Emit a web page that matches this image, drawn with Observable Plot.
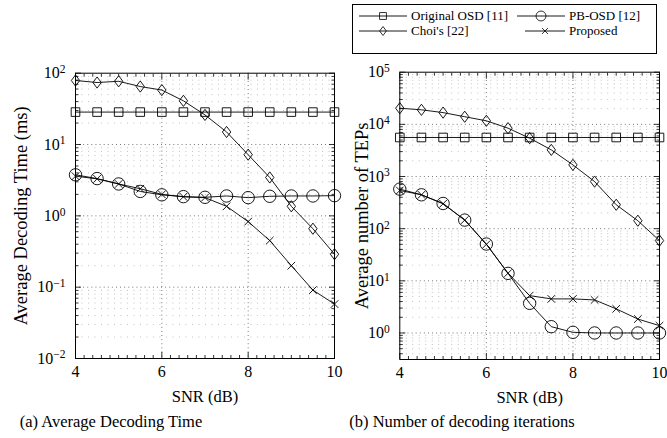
<!DOCTYPE html>
<html><head><meta charset="utf-8">
<script src="https://cdn.jsdelivr.net/npm/d3@7"></script>
<script src="https://cdn.jsdelivr.net/npm/@observablehq/plot@0.6"></script>
<style>
body{margin:0;background:#fff;}
#wrap{position:relative;width:667px;height:438px;font-family:"Liberation Serif","Times New Roman","DejaVu Serif",serif;color:#000;overflow:hidden;}
.panel{position:absolute;top:0;}
.panel svg{overflow:visible;}
.cap{position:absolute;font-size:16.5px;white-space:nowrap;transform:translateX(-50%);}
#legend{position:absolute;left:352px;top:4px;width:305px;height:50px;border:1px solid #000;box-sizing:border-box;font-size:13px;}
.li{position:absolute;display:flex;align-items:center;white-space:nowrap;height:14px;}
.li svg{margin-right:4px;}
</style></head><body><div id="wrap">
<div id="left" class="panel" style="left:0"></div>
<div id="right" class="panel" style="left:340px"></div>
<div id="legend"></div>
<div class="cap" style="left:111px;top:412px">(a) Average Decoding Time</div>
<div class="cap" style="left:462px;top:412px">(b) Number of decoding iterations</div>
</div>
<script>
// ---- data ----
const snr = [4, 4.5, 5, 5.5, 6, 6.5, 7, 7.5, 8, 8.5, 9, 9.5, 10];
const seriesNames = ["Original OSD [11]", "PB-OSD [12]", "Choi's [22]", "Proposed"];
// (a) average decoding time (ms)
const timeOrig = [28.5, 28.5, 28.5, 28.5, 28.5, 28.5, 28.5, 28.5, 28.5, 28.5, 28.5, 28.5, 28.5];
const timePB   = [3.76, 3.33, 2.8, 2.2, 1.97, 1.86, 1.82, 1.9, 1.8, 1.88, 1.9, 1.9, 1.92];
const timeChoi = [79, 74, 77, 65, 58, 41, 26, 15, 7.2, 3.45, 1.36, 0.66, 0.29];
const timeProp = [3.6, 3.3, 2.8, 2.4, 2.0, 1.85, 1.8, 1.36, 0.83, 0.45, 0.2, 0.091, 0.058];
// (b) average number of TEPs
const tepOrig = [5600, 5600, 5600, 5600, 5600, 5600, 5600, 5600, 5600, 5600, 5600, 5600, 5600];
const tepPB   = [573, 446, 304, 146, 50.7, 13.9, 3.7, 1.32, 1.03, 1, 1, 1, 1];
const tepChoi = [20400, 19000, 16800, 14000, 11700, 8450, 5430, 3240, 1670, 800, 287, 142, 59];
const tepProp = [540, 446, 300, 146, 50, 14, 5.2, 4.5, 4.5, 4.3, 2.9, 1.85, 1.38];
// ticks
const xTicks = [4, 6, 8, 10];
const timeTicks = [0.01, 0.1, 1, 10, 100];
const tepTicks = [1, 10, 100, 1000, 10000, 100000];

const FONT = "Liberation Serif, Times New Roman, DejaVu Serif, serif";

// ---- symbols ----
const symSquare = {draw(c){ c.rect(-4.3,-4.3,8.6,8.6); }};
const symCircle = {draw(c){ c.moveTo(6.2,0); c.arc(0,0,6.2,0,2*Math.PI); c.closePath(); }};
const symDiamond = {draw(c){ c.moveTo(0,-5.6); c.lineTo(4.2,0); c.lineTo(0,5.6); c.lineTo(-4.2,0); c.closePath(); }};
const symTimes = {draw(c){ c.moveTo(-3.8,-3.8); c.lineTo(3.8,3.8); c.moveTo(-3.8,3.8); c.lineTo(3.8,-3.8); }};
const symbols = [symSquare, symCircle, symDiamond, symTimes];

function rows(vals){ return snr.map((x,i)=>({x, y: vals[i]})); }
function fmtPow(d){ const e = Math.round(Math.log10(d)); return "10^" + String(e).replace("-","−"); }
function minors(lo, hi){ const out=[]; for(let e=lo;e<hi;e++) for(let k=2;k<=9;k++) out.push(k*Math.pow(10,e)); return out; }

function panel(opts){
  const {el, width, height, ml, mr, mt, mb, domain, ticks, series, ylabel, ylabelOffset, minorLo, minorHi} = opts;
  const minorY = minors(minorLo, minorHi).filter(v=>v>=domain[0] && v<=domain[1]);
  const majorInner = ticks.filter(v=>v>domain[0]*1.001 && v<domain[1]*0.999);
  const minorX = d3.range(4.2, 10, 0.2).filter(v=>Math.abs(v-Math.round(v/2)*2)>1e-6);
  const marks = [
    Plot.ruleY(minorY, {stroke:"#aaa", strokeWidth:0.8, strokeDasharray:"0.9,5.6"}),
    Plot.ruleY(majorInner, {stroke:"#444", strokeWidth:0.8, strokeDasharray:"0.9,3.2"}),
    Plot.ruleX([6,8], {stroke:"#444", strokeWidth:0.8, strokeDasharray:"0.9,3.2"}),
    Plot.axisY({anchor:"left", ticks:minorY, tickSize:-3.5, tickFormat:()=>"", label:null, strokeWidth:0.8}),
    Plot.axisY({anchor:"right", ticks:minorY, tickSize:-3.5, tickFormat:()=>"", label:null, strokeWidth:0.8}),
    Plot.axisY({anchor:"left", ticks:ticks, tickSize:-6, tickFormat:()=>"", label:null, strokeWidth:0.8}),
    Plot.axisY({anchor:"right", ticks:ticks, tickSize:-6, tickFormat:()=>"", label:null, strokeWidth:0.8}),
    Plot.axisY({anchor:"left", ticks:ticks, tickSize:0, tickPadding:10, tickFormat:fmtPow, label:null, fontSize:16}),
    Plot.axisY({anchor:"left", ticks:[], label:ylabel, labelAnchor:"center", labelArrow:"none", labelOffset:ylabelOffset, fontSize:18.5}),
    Plot.axisX({anchor:"bottom", ticks:minorX, tickSize:-3, tickFormat:()=>"", label:null, strokeWidth:0.8}),
    Plot.axisX({anchor:"top", ticks:minorX, tickSize:-3, tickFormat:()=>"", label:null, strokeWidth:0.8}),
    Plot.axisX({anchor:"bottom", ticks:xTicks, tickSize:-6, tickFormat:()=>"", label:null, strokeWidth:0.8}),
    Plot.axisX({anchor:"top", ticks:xTicks, tickSize:-6, tickFormat:()=>"", label:null, strokeWidth:0.8}),
    Plot.axisX({anchor:"bottom", ticks:xTicks, tickSize:0, tickPadding:7, tickFormat:d=>String(d), label:null, fontSize:16}),
    Plot.axisX({anchor:"bottom", ticks:[], label:"SNR (dB)", labelAnchor:"center", labelArrow:"none", labelOffset:43, fontSize:16.5}),
    Plot.frame({stroke:"#000", strokeWidth:1})
  ];
  series.forEach((vals, i) => {
    marks.push(Plot.line(rows(vals), {x:"x", y:"y", stroke:"#000", strokeWidth:0.9}));
    marks.push(Plot.dot(rows(vals), {x:"x", y:"y", symbol:()=>symbols[i], stroke:"#000", strokeWidth:0.9, fill:"none", r:5}));
  });
  const svg = Plot.plot({
    width, height, marginLeft:ml, marginRight:mr, marginTop:mt, marginBottom:mb,
    style:{fontFamily:FONT, color:"#000", background:"transparent", overflow:"visible"},
    x:{domain:[4,10]},
    y:{type:"log", domain},
    symbol:{type:"identity"},
    marks
  });
  d3.select(svg).selectAll("text").each(function(){
    const t = this.textContent;
    if (t.startsWith("10^")) {
      const [b, e] = t.split("^");
      this.textContent = "";
      d3.select(this).append("tspan").text(b);
      d3.select(this).append("tspan").attr("dy","-0.45em").attr("font-size","0.72em").text(e);
    }
  });
  document.getElementById(el).appendChild(svg);
}

panel({el:"left", width:340, height:405, ml:75, mr:6, mt:72.7, mb:47, domain:[0.01,100], ticks:timeTicks,
  series:[timeOrig, timePB, timeChoi, timeProp], ylabel:"Average Decoding Time (ms)", ylabelOffset:62, minorLo:-2, minorHi:2});
panel({el:"right", width:327, height:405, ml:59.3, mr:8, mt:71.7, mb:46, domain:[0.31,100000], ticks:tepTicks,
  series:[tepOrig, tepPB, tepChoi, tepProp], ylabel:"Average number of TEPs", ylabelOffset:45, minorLo:-1, minorHi:5});

// ---- legend ----
const legendPos = [[6,11],[164,11],[6,26],[172,26]];
const sampleW = [48, 48, 48, 40];
const leg = document.getElementById("legend");
seriesNames.forEach((name, i) => {
  const w = sampleW[i];
  const div = document.createElement("div");
  div.className = "li";
  div.style.left = legendPos[i][0] + "px";
  div.style.top = (legendPos[i][1]-7) + "px";
  const s = d3.create("svg").attr("width", w).attr("height", 14);
  s.append("line").attr("x1",0).attr("x2",w).attr("y1",7).attr("y2",7).attr("stroke","#000").attr("stroke-width",0.9);
  const p = d3.path(); symbols[i].draw(p);
  s.append("path").attr("d", p.toString()).attr("transform",`translate(${w/2},7) scale(0.8)`).attr("fill","none").attr("stroke","#000").attr("stroke-width",1);
  div.appendChild(s.node());
  const sp = document.createElement("span"); sp.textContent = name; div.appendChild(sp);
  leg.appendChild(div);
});
</script></body></html>
